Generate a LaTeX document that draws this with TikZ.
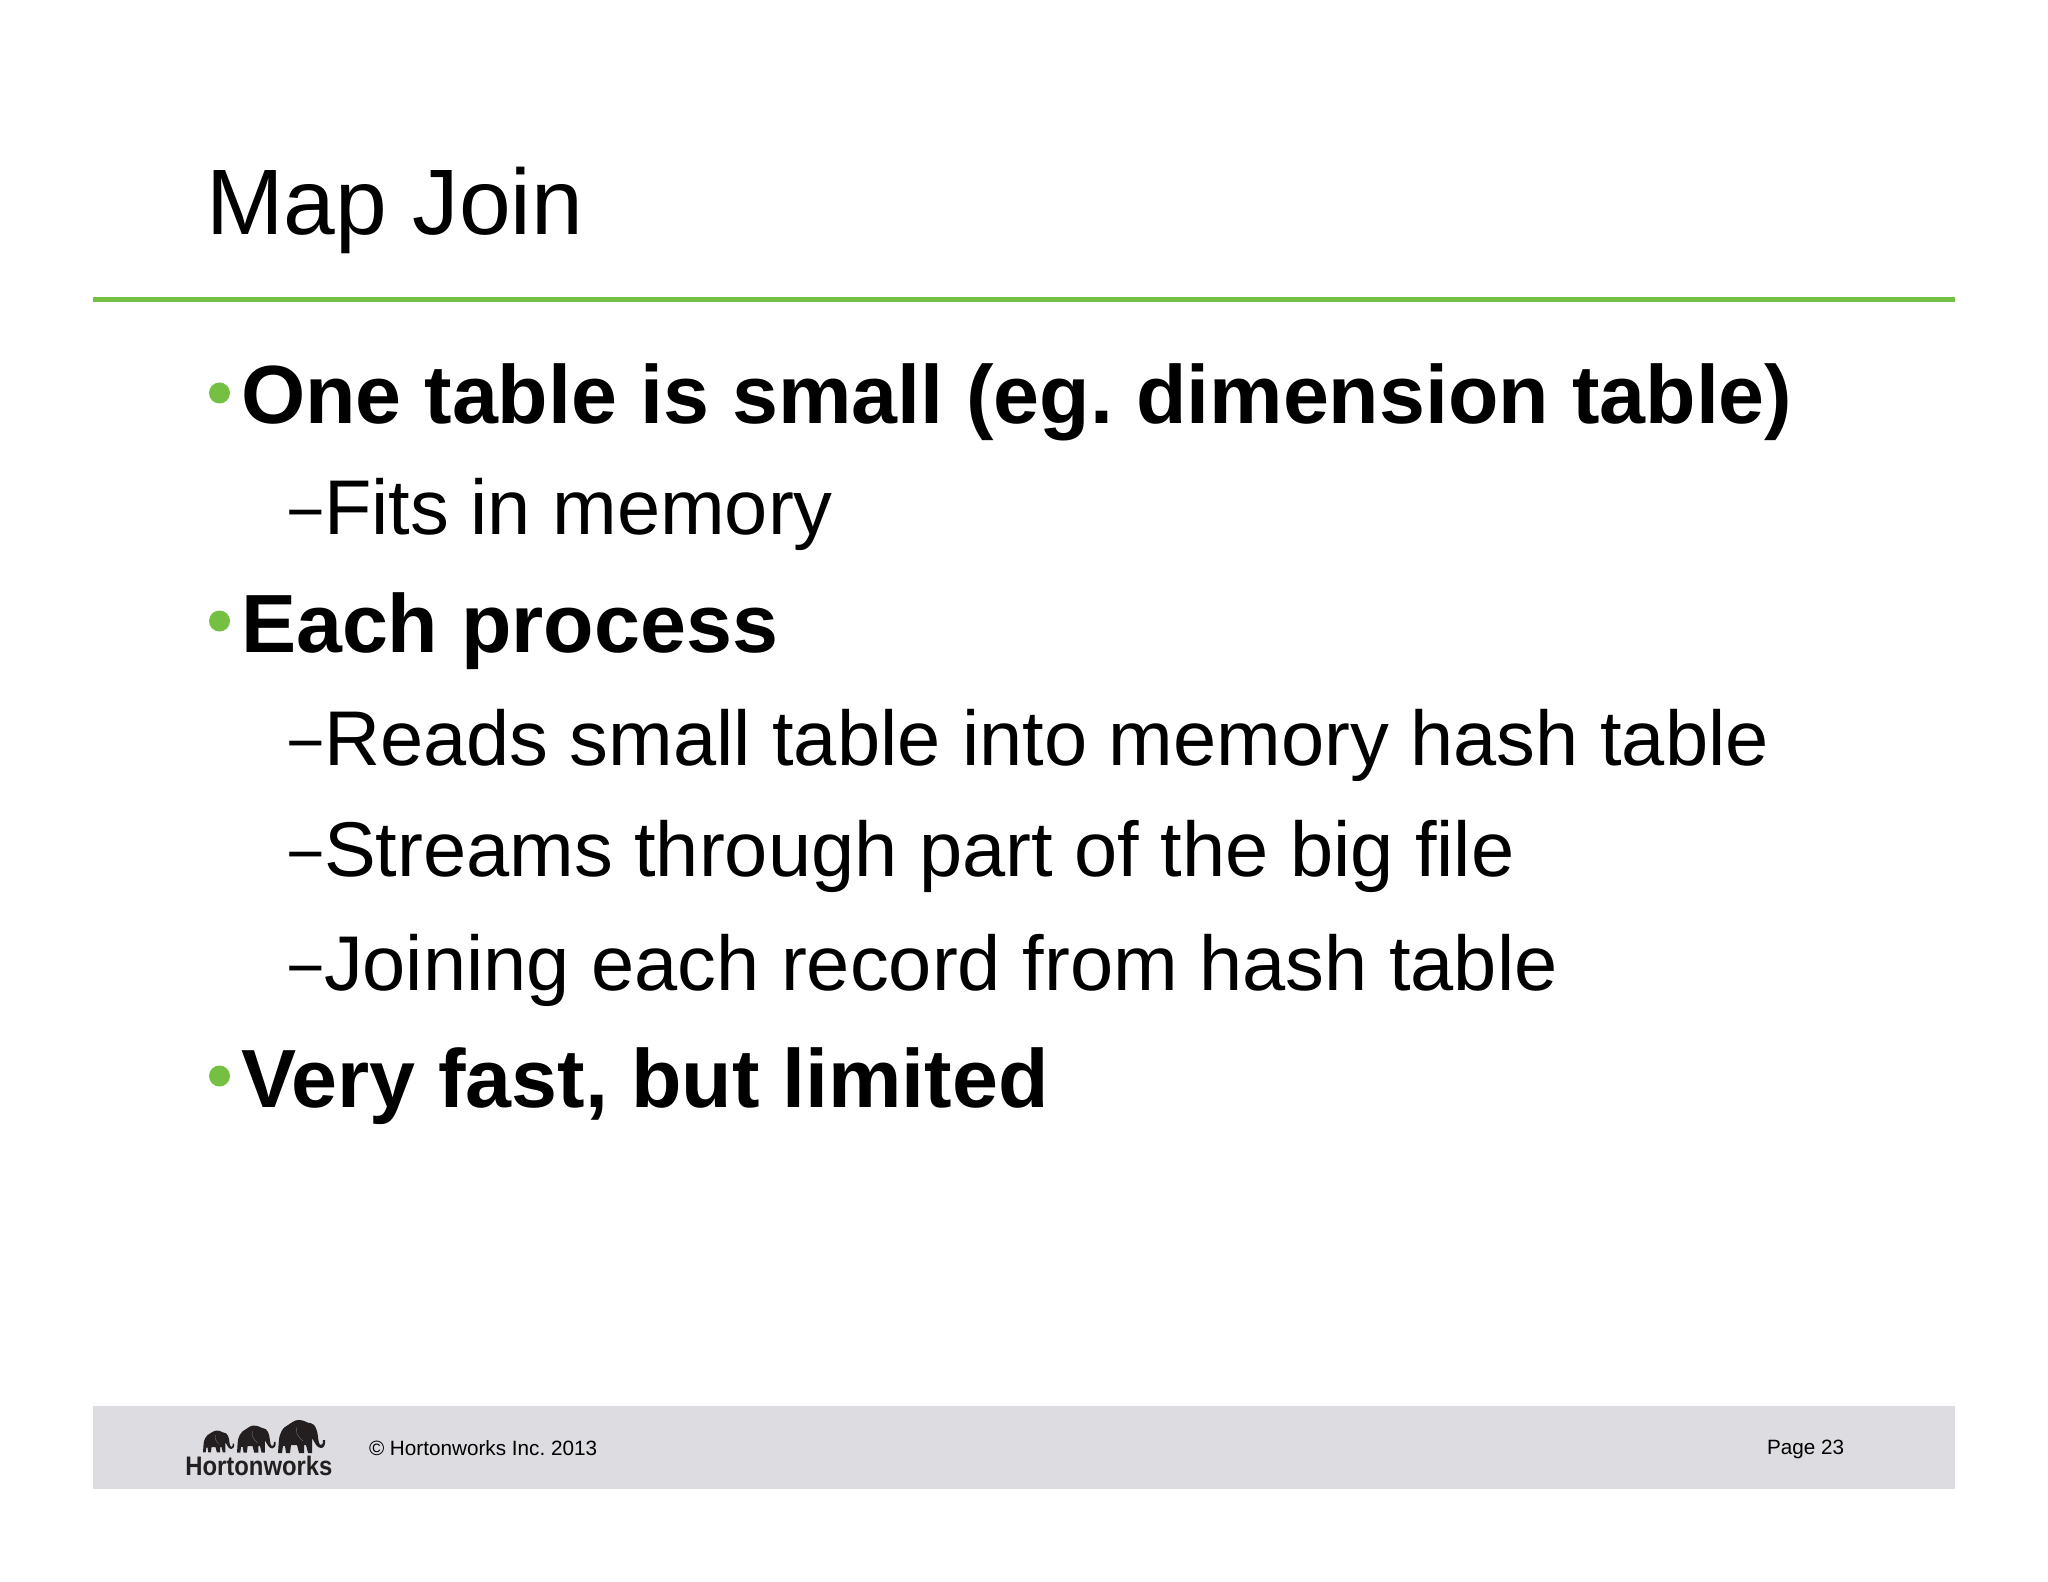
\documentclass[tikz,border=0pt]{standalone}
\usepackage{fontspec}
\setmainfont{Liberation Sans}
\definecolor{hwgreen}{HTML}{75C043}
\definecolor{hwbar}{HTML}{DCDCE1}
\definecolor{hwlogo}{HTML}{231F20}
\definecolor{hwear}{HTML}{6B5F5F}
\newcommand{\pxfont}[1]{\fontsize{#1}{#1}\selectfont}
\tikzset{
  txt/.style={anchor=base west,inner sep=0pt,outer sep=0pt,text=black},
  titletxt/.style={txt,font=\frenchspacing\pxfont{46.5pt}},
  boldtxt/.style={txt,font=\frenchspacing\pxfont{41.3pt}\bfseries},
  subtxt/.style={txt,font=\frenchspacing\pxfont{38.8pt}},
  dashtxt/.style={anchor=base west,inner sep=0pt,font=\pxfont{33pt}},
  dotmark/.style={circle,fill=hwgreen,draw=none,minimum size=10.5pt,inner sep=0pt},
  foot/.style={txt,font=\frenchspacing\pxfont{10.35pt}},
  logotxt/.style={anchor=base west,inner sep=0pt,text=hwlogo,xscale=0.89,font=\pxfont{13.4pt}\bfseries},
  elephant/.pic={
    \fill[hwlogo] (0,33) -- (0.7,23) .. controls (1,17) and (2,14) .. (3.3,11.7)
      .. controls (5,8) and (8,6) .. (10,5)
      .. controls (13,3) and (17,0) .. (20,0)
      .. controls (24,0) and (27,1) .. (30,2.7)
      .. controls (34,3) and (37,5) .. (38,8.3)
      .. controls (39.5,11) and (39.5,14) .. (40,17)
      .. controls (40.5,21) and (41,25) .. (43,25)
      .. controls (45,25) and (45,22) .. (45,20)
      -- (47,20) .. controls (47.5,25) and (46,28) .. (43,28)
      .. controls (39,28) and (37,23) .. (34,18)
      -- (34,33) -- (30,33) -- (28,25) -- (26,25) -- (26,33) -- (21,33) -- (19,25)
      -- (13,25) -- (12,33) -- (8,33) -- (7,26) -- (5,26) -- (4,33) -- cycle;
    \draw[hwear,line width=0.25pt] (19,7) .. controls (17,11) and (19,16) .. (25,21);
  }
}
\begin{document}
\begin{tikzpicture}[x=0.5pt,y=-0.5pt]
\useasboundingbox (0,0) rectangle (2048,1582);
\fill[white] (0,0) rectangle (2048,1582);
\fill[hwgreen] (93,297) rectangle (1955,302);
\fill[hwbar] (93,1406) rectangle (1955,1489);
\node[titletxt] (title) at (206,235) {Map Join};
\node[dotmark] (b1) at (219.5,393) {};
\node[boldtxt] (t1) at (241,424) {One table is small (eg. dimension table)};
\node[dashtxt] (d1) at (286,535) {−};
\node[subtxt] (s1) at (324,535) {Fits in memory};
\node[dotmark] (b2) at (219.5,621) {};
\node[boldtxt] (t2) at (241,652) {Each process};
\node[dashtxt] (d2) at (286,765) {−};
\node[subtxt] (s2) at (324,765) {Reads small table into memory hash table};
\node[dashtxt] (d3) at (286,876) {−};
\node[subtxt] (s3) at (324,876) {Streams through part of the big file};
\node[dashtxt] (d4) at (286,990) {−};
\node[subtxt] (s4) at (324,990) {Joining each record from hash table};
\node[dotmark] (b3) at (219.5,1076) {};
\node[boldtxt] (t3) at (241,1107) {Very fast, but limited};
\pic[scale=0.66] at (203,1430.5) {elephant};
\pic[scale=0.82] at (237,1425.5) {elephant};
\pic[scale=1] at (278,1420) {elephant};
\node[logotxt] (logo) at (185,1475) {Hortonworks};
\node[foot] (copy) at (369,1455) {© Hortonworks Inc. 2013};
\node[foot] (page) at (1767,1454) {Page 23};
\end{tikzpicture}
\end{document}
